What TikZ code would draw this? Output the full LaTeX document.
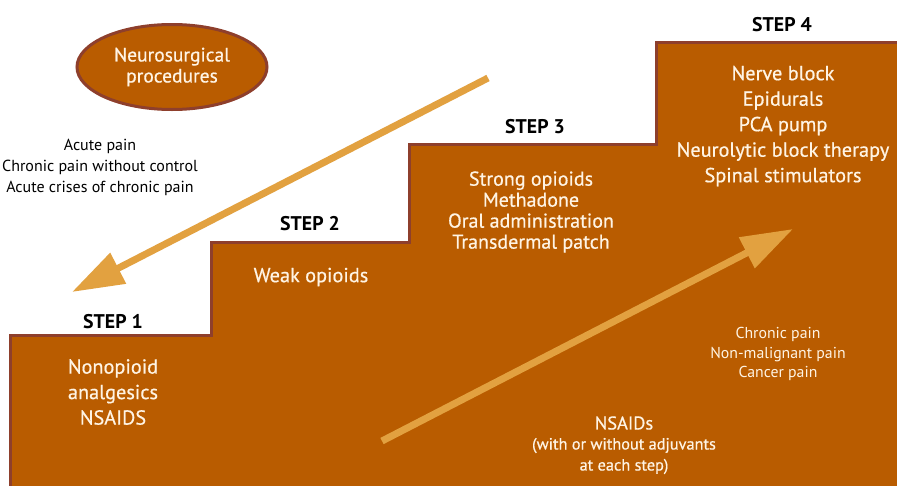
\documentclass[tikz,border=0pt]{standalone}
\usepackage{fontspec}
\setmainfont{PT Sans}
\newfontfamily\medfont{PT Sans}[FakeBold=0.6]
\usetikzlibrary{arrows.meta,shapes.geometric}
\definecolor{stairfill}{HTML}{B95C00}
\definecolor{stairedge}{HTML}{8E3F2C}
\definecolor{arrowcol}{HTML}{E2A140}
\definecolor{lighttext}{HTML}{FFF4E4}
\begin{document}
\begin{tikzpicture}[x=1pt,y=-1pt,
  steplabel/.style={font=\bfseries\fontsize{19.8}{20}\selectfont, text=black, inner sep=0pt},
  stairtext/.style={font=\medfont\fontsize{20.3}{25.5}\selectfont, text=lighttext, align=center, inner sep=0pt},
  smalltext/.style={font=\fontsize{16}{21}\selectfont, align=center, inner sep=0pt},
  bigarrow/.style={draw=arrowcol, line width=7pt, -{Triangle[length=52pt,width=33pt]}}]
\useasboundingbox (0,0) rectangle (897,485);
\clip (0,0) rectangle (897,485);
\fill[white] (0,0) rectangle (897,485);
\draw[stairedge, line width=3pt, fill=stairfill]
  (10,495) -- (10,335) -- (211,335) -- (211,242) -- (409,242) -- (409,144)
  -- (656,144) -- (656,42) -- (905,42) -- (905,495) -- cycle;
% ellipse
\node[ellipse, draw=stairedge, line width=3pt, fill=stairfill, minimum width=190pt, minimum height=85pt,
  text=lighttext, align=center, font=\medfont\fontsize{19.5}{21}\selectfont, inner sep=0pt] (neuro) at (172,67)
  {Neurosurgical\\procedures};
% step labels
\node[steplabel] (s1) at (113,322) {STEP 1};
\node[steplabel] (s2) at (310,224) {STEP 2};
\node[steplabel] (s3) at (535,127) {STEP 3};
\node[steplabel] (s4) at (782,25) {STEP 4};
% step texts
\node[stairtext] (t1) at (113,392) {Nonopioid\\analgesics\\NSAIDS};
\node[stairtext] (t2) at (311,277) {Weak opioids};
\node[stairtext, font=\medfont\fontsize{20}{21}\selectfont] (t3) at (531,212) {Strong opioids\\Methadone\\Oral administration\\Transdermal patch};
\node[stairtext] (t4) at (783,126) {Nerve block\\Epidurals\\PCA pump\\Neurolytic block therapy\\Spinal stimulators};
% side texts
\node[smalltext] (left) at (100,167) {Acute pain\\Chronic pain without control\\Acute crises of chronic pain};
\node[smalltext, text=lighttext, font=\fontsize{15.8}{19.5}\selectfont] (right) at (778,354) {Chronic pain\\Non-malignant pain\\Cancer pain};
\node[stairtext, font=\medfont\fontsize{18.5}{21}\selectfont] (nsaid) at (624,423) {NSAIDs};
\node[smalltext, text=lighttext, font=\medfont\fontsize{16.3}{21}\selectfont] (adj) at (624,456) {(with or without adjuvants\\at each step)};
% arrows
\coordinate (dstart) at (488,78);
\coordinate (dend) at (72,292);
\coordinate (ustart) at (382,441);
\coordinate (uend) at (793,229);
\draw[bigarrow] (dstart) -- (dend);
\draw[bigarrow] (ustart) -- (uend);
\end{tikzpicture}
\end{document}
